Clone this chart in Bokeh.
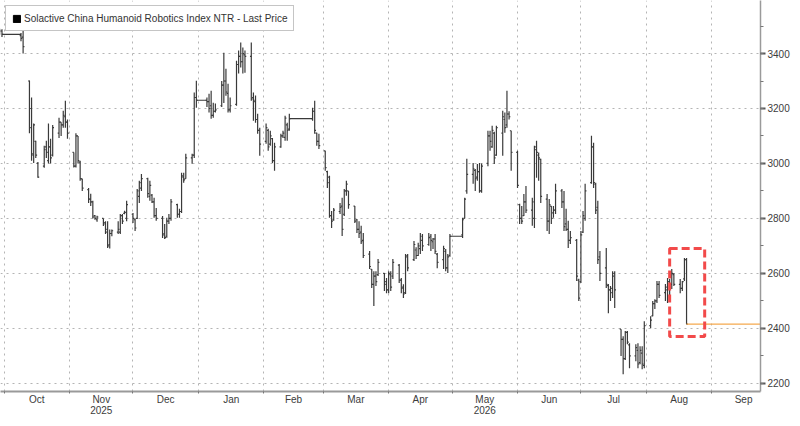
import pandas as pd
from bokeh.plotting import figure
from bokeh.models import FixedTicker, Range1d, Legend, LegendItem
from bokeh.embed import file_html
from bokeh.resources import INLINE

# exchange holidays (drawn as flat lines at the previous close)
holidays = ["2025-10-01", "2025-10-02", "2025-10-03", "2025-10-06", "2025-10-07", "2025-10-08",
            "2026-01-01", "2026-01-02",
            "2026-02-16", "2026-02-17", "2026-02-18", "2026-02-19", "2026-02-20", "2026-02-23",
            "2026-05-01", "2026-05-04", "2026-05-05"]

# daily OHLC, one line per month (Sep 2025 .. Aug 2026)
opens = [
    3475, 3482,
    3465, 3460, 3300, 3200, 3030, 3080, 3000, 2990, 3060, 3010, 3060, 3030, 3110, 3150, 3140, 3170, 3150,
    3040, 2990, 3100, 3005, 2944, 2905, 2870, 2860, 2810, 2795, 2800, 2785, 2760, 2705, 2745, 2750, 2750, 2810, 2818, 2800,
    2815, 2795, 2800, 2880, 2910, 2945, 2880, 2885, 2860, 2810, 2800, 2745, 2735, 2790, 2800, 2850, 2815, 2825, 2950, 2945, 3020, 3030, 3240,
    3230, 3225, 3210, 3175, 3190, 3210, 3285, 3300, 3255, 3195, 3215, 3360, 3390, 3370, 3395, 3390, 3240, 3225, 3160, 3120,
    3080, 3120, 3070, 3090, 3010, 3060, 3100, 3095, 3140, 3125, 3163, 3190, 3110, 3080,
    3046, 2970, 2950, 2810, 2795, 2825, 2845, 2815, 2900, 2900, 2845, 2795, 2760, 2750, 2720, 2670, 2615, 2560, 2590, 2595, 2600, 2570,
    2540, 2595, 2590, 2630, 2575, 2550, 2530, 2665, 2650, 2685, 2665, 2690, 2720, 2705, 2735, 2715, 2725, 2670, 2650, 2680, 2620, 2665,
    2740, 2800, 2900, 2960, 2975, 2950, 2970, 2900, 3000, 3100, 3060, 3110, 3030, 3110, 3160, 3140, 3180, 3119,
    3040, 2850, 2800, 2810, 2860, 2830, 2800, 3060, 3030, 3015, 2870, 2790, 2845, 2820, 2830, 2900, 2860, 2780, 2760, 2720, 2720, 2575,
    2570, 2750, 2800, 2930, 3060, 2925, 2840, 2660, 2620, 2555, 2540, 2530, 2600, 2397, 2360, 2290, 2385, 2340, 2300, 2320, 2275, 2310, 2265,
    2410, 2445, 2490, 2500, 2560, 2530, 2540, 2570, 2560, 2595, 2560, 2545, 2580, 2650,
]
highs = [
    3490, 3488,
    3475, 3495, 3302, 3240, 3145, 3083, 3005, 3064, 3083, 3145, 3090, 3140, 3166, 3150, 3192, 3228, 3160,
    3040, 3110, 3100, 3010, 2944, 2911, 2890, 2864, 2812, 2810, 2800, 2790, 2790, 2760, 2760, 2790, 2816, 2816, 2828, 2864,
    2820, 2800, 2907, 2937, 2962, 2948, 2937, 2889, 2875, 2838, 2809, 2780, 2802, 2816, 2871, 2853, 2835, 2966, 2966, 3035, 3035, 3258, 3301,
    3240, 3254, 3265, 3221, 3218, 3300, 3403, 3345, 3290, 3240, 3374, 3411, 3440, 3422, 3411, 3440, 3258, 3247, 3181, 3130,
    3145, 3126, 3119, 3093, 3075, 3108, 3119, 3174, 3148, 3181, 3203, 3228, 3112, 3108,
    3046, 2973, 2955, 2827, 2838, 2856, 2875, 2907, 2937, 2900, 2845, 2798, 2790, 2773, 2747, 2681, 2616, 2608, 2608, 2652, 2601, 2583,
    2608, 2608, 2652, 2634, 2583, 2560, 2670, 2670, 2718, 2695, 2711, 2747, 2743, 2747, 2743, 2729, 2743, 2674, 2700, 2689, 2670, 2743,
    2802, 2875, 3017, 3002, 2980, 2998, 3002, 3000, 3119, 3119, 3137, 3115, 3137, 3192, 3185, 3265, 3190, 3119,
    3046, 2853, 2845, 2889, 2918, 2875, 3064, 3083, 3040, 3017, 2889, 2871, 2845, 2845, 2926, 2907, 2900, 2835, 2791, 2754, 2725, 2580,
    2754, 2827, 2926, 3101, 3075, 2930, 2864, 2681, 2692, 2561, 2554, 2608, 2608, 2397, 2371, 2390, 2390, 2346, 2342, 2346, 2335, 2335, 2426,
    2444, 2499, 2506, 2572, 2572, 2561, 2583, 2579, 2616, 2601, 2579, 2572, 2656, 2656,
]
lows = [
    3468, 3460,
    3445, 3400, 3110, 3010, 3002, 3020, 2948, 2984, 3020, 3000, 3000, 3025, 3093, 3100, 3130, 3130, 3090,
    2985, 2985, 3000, 2937, 2900, 2856, 2845, 2800, 2795, 2788, 2772, 2743, 2692, 2690, 2735, 2743, 2743, 2780, 2815, 2790,
    2783, 2754, 2798, 2856, 2900, 2875, 2864, 2856, 2802, 2791, 2729, 2725, 2730, 2780, 2791, 2802, 2802, 2820, 2930, 2944, 2999, 3020, 3203,
    3205, 3185, 3163, 3166, 3185, 3205, 3220, 3246, 3185, 3185, 3210, 3327, 3349, 3327, 3330, 3228, 3155, 3148, 3108, 3028,
    3072, 3046, 3064, 3002, 2973, 3057, 3093, 3083, 3083, 3119, 3155, 3108, 3064, 3053,
    2973, 2911, 2802, 2765, 2791, 2816, 2736, 2809, 2882, 2835, 2783, 2747, 2729, 2707, 2656, 2616, 2547, 2481, 2554, 2590, 2536, 2528,
    2528, 2536, 2579, 2565, 2528, 2510, 2525, 2608, 2645, 2652, 2663, 2670, 2681, 2700, 2681, 2689, 2670, 2619, 2616, 2608, 2601, 2660,
    2729, 2800, 2890, 2926, 2900, 2937, 2893, 2893, 2990, 3046, 3057, 2998, 3028, 3028, 3112, 3130, 3160, 2973,
    2911, 2780, 2780, 2809, 2820, 2773, 2765, 2948, 2937, 2856, 2754, 2743, 2780, 2802, 2816, 2838, 2754, 2754, 2692, 2707, 2572, 2499,
    2565, 2747, 2791, 2926, 2911, 2816, 2634, 2572, 2547, 2455, 2499, 2510, 2474, 2299, 2233, 2285, 2342, 2255, 2280, 2255, 2269, 2251, 2255,
    2400, 2444, 2470, 2492, 2510, 2499, 2492, 2499, 2543, 2554, 2528, 2536, 2572, 2415,
]
closes = [
    3482, 3470,
    3455, 3425, 3130, 3035, 3140, 3030, 2950, 3050, 3040, 3060, 3020, 3130, 3150, 3140, 3175, 3150, 3110,
    2990, 3100, 3010, 2945, 2910, 2870, 2860, 2805, 2800, 2805, 2780, 2750, 2700, 2745, 2755, 2760, 2810, 2790, 2822, 2850,
    2800, 2765, 2900, 2930, 2945, 2890, 2920, 2860, 2810, 2800, 2740, 2730, 2790, 2800, 2860, 2815, 2825, 2955, 2940, 3020, 3030, 3240, 3230,
    3225, 3200, 3175, 3190, 3195, 3285, 3300, 3260, 3195, 3210, 3360, 3390, 3370, 3400, 3390, 3235, 3230, 3160, 3120, 3070,
    3130, 3060, 3100, 3010, 3060, 3100, 3110, 3165, 3120, 3163, 3190, 3120, 3080, 3065,
    2985, 2930, 2810, 2790, 2830, 2840, 2760, 2900, 2925, 2850, 2790, 2760, 2745, 2715, 2665, 2625, 2560, 2590, 2570, 2640, 2560, 2540,
    2600, 2550, 2640, 2575, 2545, 2525, 2660, 2620, 2705, 2665, 2700, 2735, 2700, 2730, 2720, 2725, 2680, 2640, 2690, 2620, 2660, 2735,
    2795, 2870, 2960, 2980, 2945, 2970, 2900, 2990, 3100, 3080, 3120, 3020, 3130, 3170, 3130, 3180, 3170, 3040,
    2920, 2800, 2790, 2860, 2830, 2860, 3050, 3040, 3020, 2880, 2790, 2850, 2800, 2830, 2900, 2860, 2770, 2760, 2720, 2730, 2590, 2510,
    2740, 2810, 2900, 3060, 2930, 2830, 2650, 2600, 2560, 2540, 2545, 2590, 2540, 2360, 2290, 2385, 2350, 2300, 2330, 2270, 2320, 2270, 2410,
    2430, 2490, 2500, 2560, 2520, 2550, 2570, 2510, 2600, 2560, 2545, 2570, 2650, 2415,
]

month_names = ["Oct", "Nov\n2025", "Dec", "Jan", "Feb", "Mar", "Apr", "May\n2026", "Jun", "Jul", "Aug", "Sep"]
y_ticks = [2200, 2400, 2600, 2800, 3000, 3200, 3400, 3600]
legend_text = "Solactive China Humanoid Robotics Index NTR - Last Price"

hol = pd.to_datetime(holidays)
days = pd.bdate_range("2025-09-29", "2026-08-20")
dates = days[~days.isin(hol)]
n = min(len(dates), len(closes))
dates = dates[:n]

# frame edges chosen so the calendar lands where the reference draws it
x_start = pd.Timestamp("2025-11-01") - pd.Timedelta(days=32.7)
x_end = pd.Timestamp("2025-11-01") + pd.Timedelta(days=327.0)

p = figure(width=792, height=418, x_axis_type="datetime", y_axis_location="right",
           x_range=Range1d(x_start, x_end), y_range=Range1d(2170, 3593),
           toolbar_location=None, output_backend="svg", title=None,
           min_border=0, min_border_right=29, min_border_bottom=13)
p.outline_line_color = None
p.background_fill_color = "white"
p.border_fill_color = "white"

bar_col = "#3a3a3a"
half = pd.Timedelta(hours=15)
p.segment(x0=dates, y0=lows[:n], x1=dates, y1=highs[:n], color=bar_col, line_width=1.2)
p.segment(x0=dates - half, y0=opens[:n], x1=dates, y1=opens[:n], color=bar_col, line_width=1.2)
p.segment(x0=dates, y0=closes[:n], x1=dates + half, y1=closes[:n], color=bar_col, line_width=1.2)

# flat lines across holidays
fx0, fx1, fy = [], [], []
for i in range(n - 1):
    if ((hol > dates[i]) & (hol < dates[i + 1])).any():
        fx0.append(dates[i])
        fx1.append(dates[i + 1])
        fy.append(closes[i])
p.segment(x0=fx0, y0=fy, x1=fx1, y1=fy, color=bar_col, line_width=1.2)

# last price line
p.segment(x0=[dates[-1]], y0=[closes[n - 1]], x1=[x_end], y1=[closes[n - 1]],
          color="#f5a94e", line_width=1.3)

# highlight box
p.quad(left=[pd.Timestamp("2026-08-12")], right=[pd.Timestamp("2026-08-28 14:00")],
       bottom=[2370], top=[2690], fill_alpha=0, line_color="#f24a4a",
       line_width=3, line_dash="8 4")

# x axis: labels mid-month, ticks/grid at month starts
starts = pd.date_range("2025-10-01", "2026-10-01", freq="MS")
start_ms = [t.value / 1e6 for t in starts]
mid_ms = [(start_ms[i] + start_ms[i + 1]) / 2 for i in range(len(month_names))]
p.xaxis.ticker = FixedTicker(ticks=mid_ms, minor_ticks=start_ms)
p.xaxis.major_label_overrides = {m: name for m, name in zip(mid_ms, month_names)}
p.xgrid.ticker = FixedTicker(ticks=start_ms)

p.yaxis.ticker = FixedTicker(ticks=y_ticks, minor_ticks=list(range(2100, 3700, 100)))

for ax in (p.xaxis[0], p.yaxis[0]):
    ax.axis_label = None
    ax.axis_label_standoff = 0
    ax.axis_label_text_font_size = "0px"
    ax.axis_line_color = "#9a9a9a"
    ax.major_label_text_font = "Liberation Sans"
    ax.major_label_text_font_size = "10px"
    ax.major_label_text_color = "#3c3c3c"
    ax.minor_tick_in = 0
    ax.major_tick_in = 0
    ax.major_tick_line_color = "#555555"
    ax.minor_tick_line_color = "#777777"

p.xaxis.axis_line_width = 2
p.xaxis.major_tick_out = 0
p.xaxis.minor_tick_out = 2
p.xaxis.major_label_standoff = 0
p.xaxis.major_label_text_line_height = 1.0

p.yaxis.axis_line_width = 1.5
p.yaxis.major_tick_out = 5
p.yaxis.major_tick_line_width = 2
p.yaxis.minor_tick_out = 3
p.yaxis.major_label_standoff = 2

for g in (p.xgrid[0], p.ygrid[0]):
    g.grid_line_color = "#b4b4b4"
    g.grid_line_dash = "2 4"
    g.grid_line_width = 1

# legend (proxy swatch sits below the visible range)
dummy = p.quad(left=[x_start], right=[x_start], bottom=[0], top=[0],
               fill_color="black", line_color="black")
legend = Legend(items=[LegendItem(label=legend_text, renderers=[dummy])],
                location="top_left", margin=5, padding=6, spacing=0,
                glyph_width=9, glyph_height=9, label_standoff=3,
                label_text_font="Liberation Sans", label_text_font_size="10px",
                label_text_color="#333333", label_height=12,
                border_line_color="#8c8c8c", border_line_width=1.5,
                background_fill_color="white", background_fill_alpha=1)
p.add_layout(legend)

open("out.html", "w").write(file_html(p, INLINE))
